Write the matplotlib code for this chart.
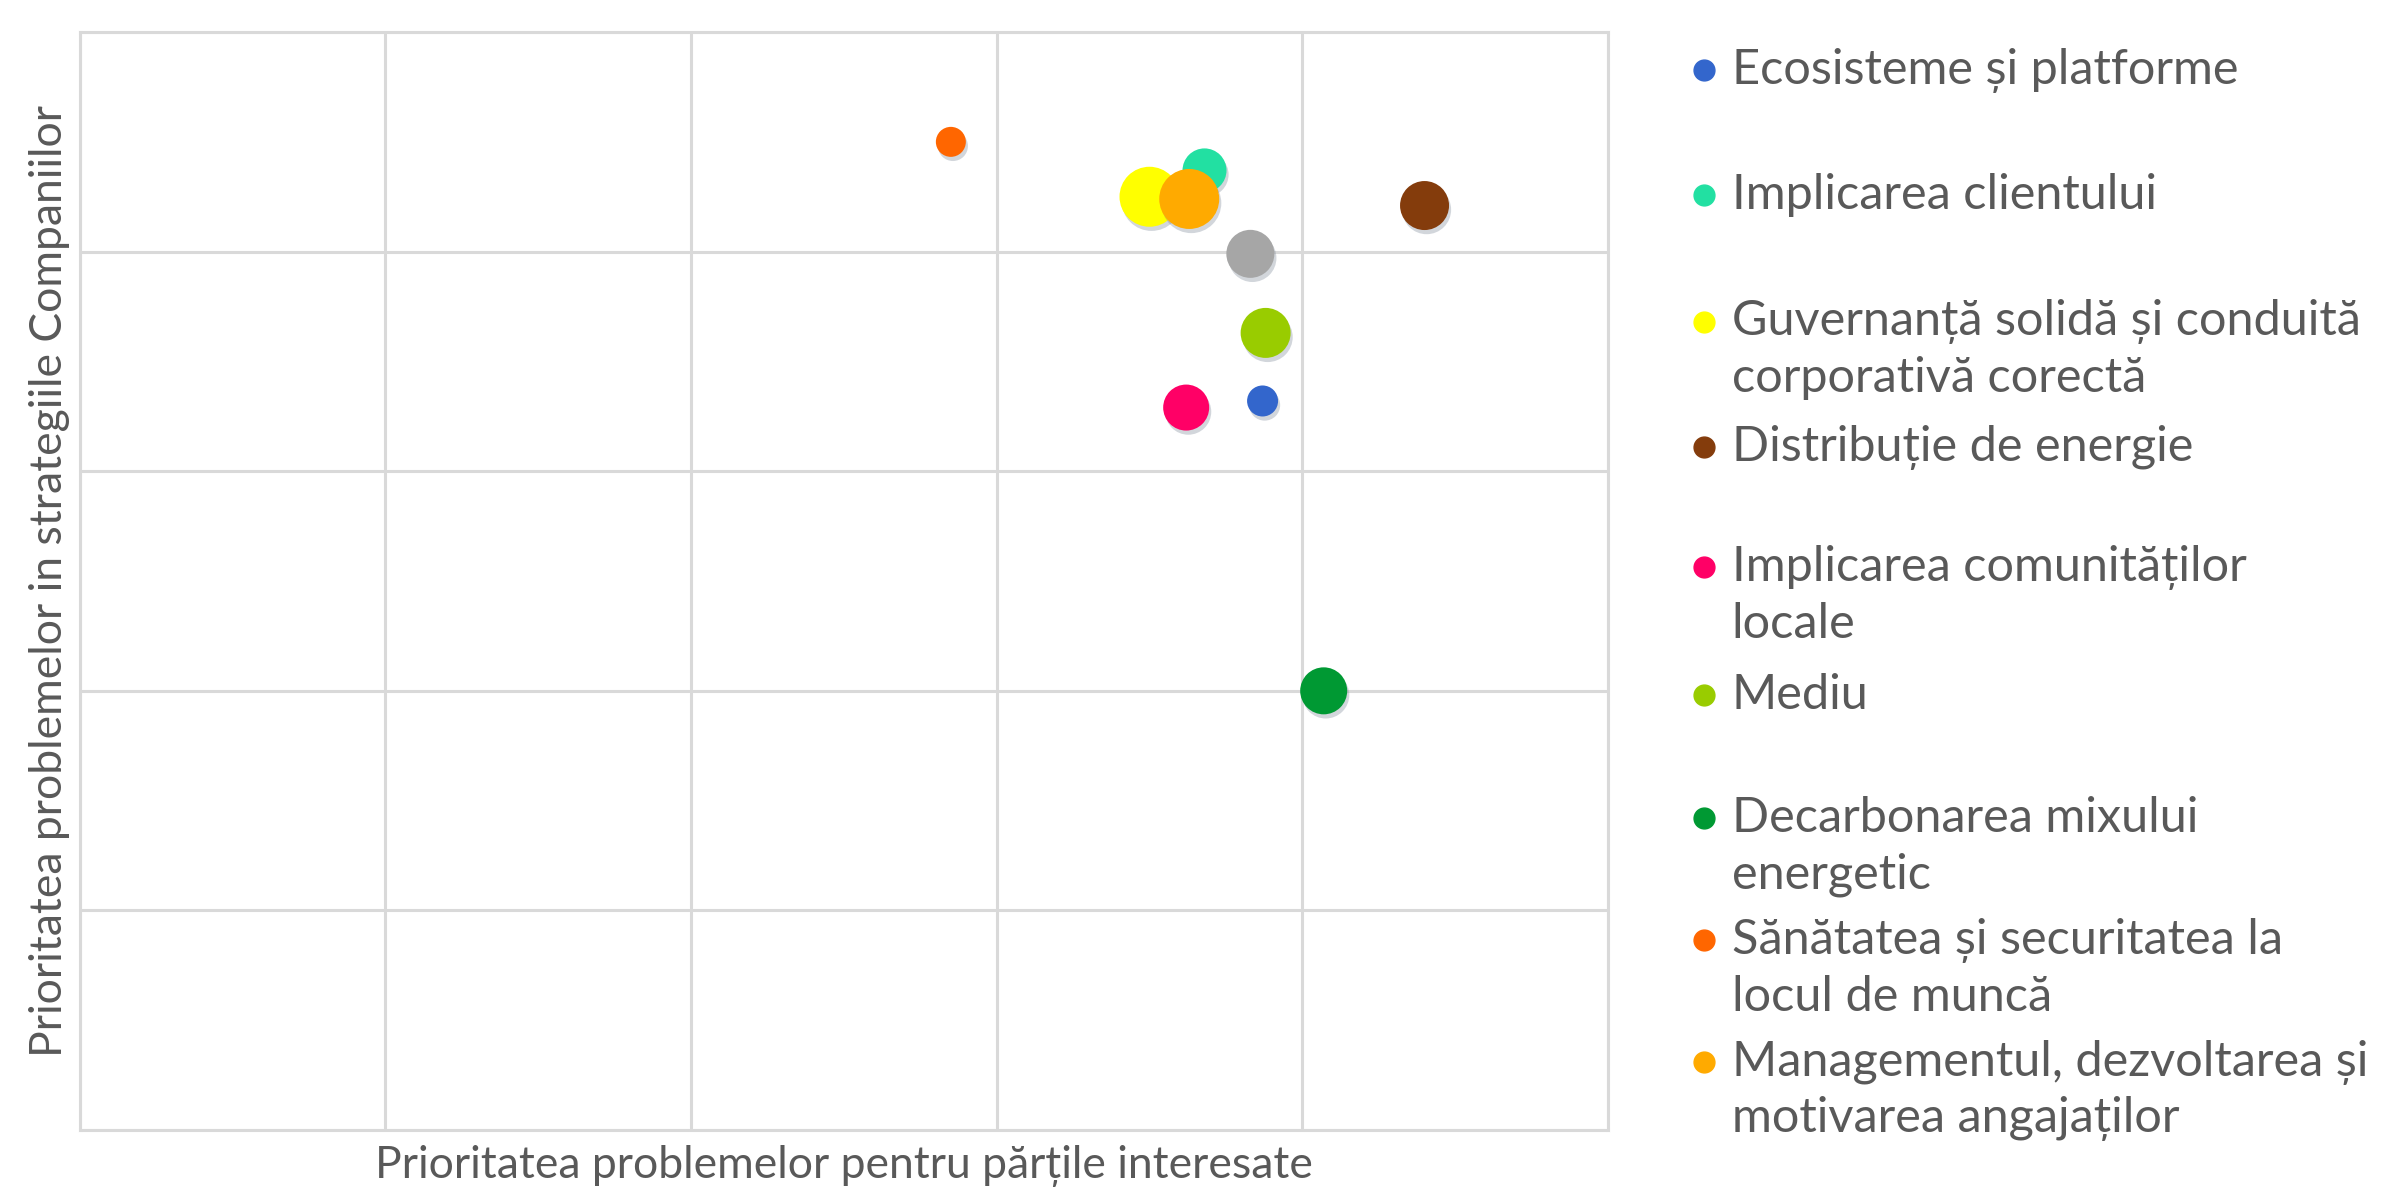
import matplotlib.pyplot as plt
import matplotlib.patheffects as pe

# issues: stakeholder priority (x) vs. priority in company strategy (y), bubble weight
issues = [
    "Ecosisteme și platforme",
    "Implicarea clientului",
    "Guvernanță solidă și conduită corporativă corectă",
    "Distribuție de energie",
    "Implicarea comunităților locale",
    "Mediu",
    "Decarbonarea mixului energetic",
    "Sănătatea și securitatea la locul de muncă",
    "Managementul, dezvoltarea și motivarea angajaților",
]
stakeholder_prio = [3.87, 3.68, 3.50, 4.40, 3.62, 3.88, 4.07, 2.85, 3.63]
company_prio = [3.32, 4.37, 4.25, 4.21, 3.29, 3.63, 2.00, 4.50, 4.24]
weight = [31, 44, 60, 49, 46, 50, 47, 30, 60]
colors = ["#3366cc", "#22e0a2", "#ffff00", "#843c0c", "#ff0066",
          "#99cc00", "#009933", "#ff6600", "#ffaa00"]

# series with no entry in the legend
extra_x, extra_y, extra_w, extra_color = 3.83, 3.99, 48, "#a6a6a6"

# legend text, broken into lines as drawn
legend_lines = [
    ["Ecosisteme și platforme"],
    ["Implicarea clientului"],
    ["Guvernanță solidă și conduită", "corporativă corectă"],
    ["Distribuție de energie"],
    ["Implicarea comunităților", "locale"],
    ["Mediu"],
    ["Decarbonarea mixului", "energetic"],
    ["Sănătatea și securitatea la", "locul de muncă"],
    ["Managementul, dezvoltarea și", "motivarea angajaților"],
]
legend_y = [0.941, 0.836, 0.730, 0.625, 0.524, 0.417, 0.314, 0.211, 0.109]

plt.rcParams["font.family"] = ["Lato", "DejaVu Sans"]
text_color = "#595959"
grid_color = "#d9d9d9"

fig = plt.figure(figsize=(23.92, 11.92), dpi=100)
ax = fig.add_axes([0.0334, 0.052, 0.6388, 0.9211])

ax.set_xlim(0, 5)
ax.set_ylim(0, 5)
ax.set_xticks(range(6))
ax.set_yticks(range(6))
ax.tick_params(length=0, labelbottom=False, labelleft=False)
ax.grid(True, color=grid_color, linewidth=2.2)
for s in ax.spines.values():
    s.set_color(grid_color)
    s.set_linewidth(2.2)
ax.set_axisbelow(True)

shadow = [pe.SimplePatchShadow(offset=(1.5, -3), shadow_rgbFace="#7f8a99", alpha=0.35),
          pe.Normal()]

px = 0.72  # points per pixel at 100 dpi
ax.scatter([extra_x], [extra_y], s=(extra_w * px) ** 2, color=extra_color,
           linewidths=0, zorder=3, path_effects=shadow)
for xv, yv, w, c in zip(stakeholder_prio, company_prio, weight, colors):
    ax.scatter([xv], [yv], s=(w * px) ** 2, color=c, linewidths=0, zorder=3,
               path_effects=shadow)

ax.set_xlabel("Prioritatea problemelor pentru părțile interesate",
              fontsize=32, color=text_color, labelpad=11)
ax.set_ylabel("Prioritatea problemelor in strategiile Companiilor",
              fontsize=32, color=text_color, labelpad=7)

# legend on the right, one marker per issue
line_step = 0.0475
for lines, y0, c in zip(legend_lines, legend_y, colors):
    fig.lines.append(plt.Line2D([0.7124], [y0], marker="o", markersize=15,
                                color=c, linestyle="none",
                                transform=fig.transFigure, figure=fig))
    for i, t in enumerate(lines):
        fig.text(0.7239, y0 - i * line_step, t, fontsize=35, color=text_color,
                 va="center", ha="left")

fig.savefig("out.png", dpi=100, facecolor="white")
